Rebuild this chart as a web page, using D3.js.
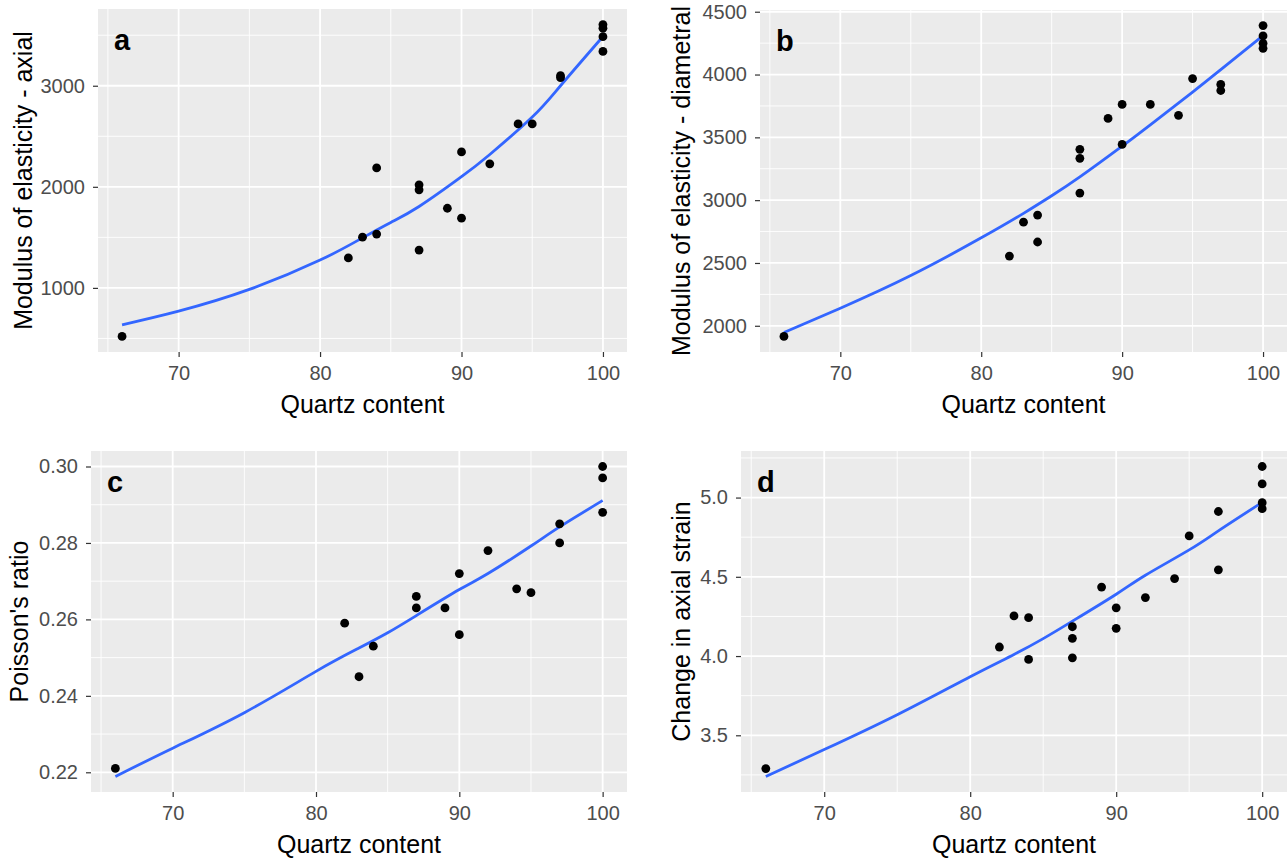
<!DOCTYPE html>
<html>
<head>
<meta charset="utf-8">
<script src="https://cdn.jsdelivr.net/npm/d3@7/dist/d3.min.js"></script>
<style>
  html, body { margin: 0; padding: 0; background: #fff; }
  svg { display: block; font-family: Arial, 'Liberation Sans', sans-serif; }
</style>
</head>
<body>
<div id="chart"></div>
<script>
/* Four ggplot-style scatter panels: rock properties vs quartz content,
 * each with its smoothed fit line. */
(function () {
  'use strict';

  // ---- data -------------------------------------------------------------
  const xLabel = 'Quartz content';
  const xTicks = [70, 80, 90, 100];
  const xMinor = [65, 75, 85, 95];

  // shared x positions of the samples (quartz %)
  const quartz = [66, 82, 83, 84, 84, 87, 87, 87, 89, 90, 90, 92, 94, 95, 97, 97, 100, 100, 100, 100];

  // a: modulus of elasticity - axial
  const modAxial = [520, 1296, 1502, 1532, 2187, 2020, 1970, 1374, 1788, 2345, 1690, 2227, 2622, 2622, 3080, 3100, 3605, 3570, 3485, 3340];
  // b: modulus of elasticity - diametral
  const modDiam = [1915, 2555, 2825, 2881, 2667, 3405, 3333, 3056, 3651, 3762, 3444, 3762, 3675, 3968, 3921, 3873, 4390, 4307, 4249, 4209];
  // c: Poisson's ratio (17 visible points)
  const quartzC = [66, 82, 83, 84, 87, 87, 89, 90, 90, 92, 94, 95, 97, 97, 100, 100, 100];
  const poisson = [0.221, 0.259, 0.245, 0.253, 0.266, 0.263, 0.263, 0.272, 0.256, 0.278, 0.268, 0.267, 0.285, 0.280, 0.300, 0.297, 0.288];
  // d: change in axial strain
  const strain = [3.29, 4.057, 4.253, 4.242, 3.979, 4.185, 4.112, 3.989, 4.435, 4.304, 4.175, 4.369, 4.489, 4.758, 4.912, 4.544, 5.196, 5.086, 4.968, 4.930];

  // fitted (smooth) curves, sampled along x
  const fitX = [66, 70, 75, 80, 83, 85, 87, 90, 92, 95, 97, 100];
  const fitAxial = [635, 770, 985, 1275, 1495, 1648, 1805, 2100, 2320, 2690, 3000, 3487];
  const fitDiam = [1947, 2140, 2400, 2700, 2895, 3035, 3185, 3430, 3600, 3860, 4039, 4310];
  const fitPoisson = [0.2189, 0.2263, 0.2356, 0.2464, 0.2525, 0.2565, 0.2610, 0.2678, 0.2720, 0.2792, 0.2842, 0.2911];
  const fitStrain = [3.24, 3.41, 3.63, 3.87, 4.01, 4.11, 4.22, 4.39, 4.51, 4.67, 4.79, 4.97];

  const yTicksA = [1000, 2000, 3000];
  const yMinorA = [500, 1500, 2500, 3500];
  const yTicksB = [2000, 2500, 3000, 3500, 4000, 4500];
  const yMinorB = [2250, 2750, 3250, 3750, 4250];
  const yTicksC = [0.22, 0.24, 0.26, 0.28, 0.30];
  const yMinorC = [0.23, 0.25, 0.27, 0.29];
  const yTicksD = [3.5, 4.0, 4.5, 5.0];
  const yMinorD = [3.25, 3.75, 4.25, 4.75, 5.25];

  // ---- layout -----------------------------------------------------------
  const W = 1287, H = 859;
  const panels = [
    { tag: 'a', yLabel: 'Modulus of elasticity - axial', xs: quartz, ys: modAxial, fit: fitAxial,
      yTicks: yTicksA, yMinor: yMinorA, fmt: d3.format('d'),
      box: { l: 98, t: 9, r: 627, b: 352 }, titleX: 32 },
    { tag: 'b', yLabel: 'Modulus of elasticity - diametral', xs: quartz, ys: modDiam, fit: fitDiam,
      yTicks: yTicksB, yMinor: yMinorB, fmt: d3.format('d'),
      box: { l: 760, t: 10, r: 1287, b: 352 }, titleX: 690 },
    { tag: 'c', yLabel: "Poisson's ratio", xs: quartzC, ys: poisson, fit: fitPoisson,
      yTicks: yTicksC, yMinor: yMinorC, fmt: d3.format('.2f'),
      box: { l: 91, t: 451, r: 627, b: 792 }, titleX: 28 },
    { tag: 'd', yLabel: 'Change in axial strain', xs: quartz, ys: strain, fit: fitStrain,
      yTicks: yTicksD, yMinor: yMinorD, fmt: d3.format('.1f'),
      box: { l: 741, t: 451, r: 1287, b: 792 }, titleX: 690 },
  ];

  const svg = d3.select('#chart').append('svg').attr('width', W).attr('height', H);

  // ggplot default 5% expansion
  function expand(ext) {
    const pad = (ext[1] - ext[0]) * 0.05;
    return [ext[0] - pad, ext[1] + pad];
  }

  function drawPanel(p) {
    const b = p.box;
    const x = d3.scaleLinear().domain(expand(d3.extent(p.xs.concat(fitX)))).range([b.l, b.r]);
    const y = d3.scaleLinear().domain(expand(d3.extent(p.ys.concat(p.fit)))).range([b.b, b.t]);
    const g = svg.append('g');

    g.append('rect').attr('x', b.l).attr('y', b.t).attr('width', b.r - b.l).attr('height', b.b - b.t)
      .attr('fill', '#EBEBEB');

    // minor then major grid
    g.selectAll('.mx').data(xMinor).enter().append('line')
      .attr('x1', d => x(d)).attr('x2', d => x(d)).attr('y1', b.t).attr('y2', b.b)
      .attr('stroke', '#fff').attr('stroke-width', 0.9);
    g.selectAll('.my').data(p.yMinor).enter().append('line')
      .attr('y1', d => y(d)).attr('y2', d => y(d)).attr('x1', b.l).attr('x2', b.r)
      .attr('stroke', '#fff').attr('stroke-width', 0.9);
    g.selectAll('.gx').data(xTicks).enter().append('line')
      .attr('x1', d => x(d)).attr('x2', d => x(d)).attr('y1', b.t).attr('y2', b.b)
      .attr('stroke', '#fff').attr('stroke-width', 1.8);
    g.selectAll('.gy').data(p.yTicks).enter().append('line')
      .attr('y1', d => y(d)).attr('y2', d => y(d)).attr('x1', b.l).attr('x2', b.r)
      .attr('stroke', '#fff').attr('stroke-width', 1.8);

    // axes (ggplot look: short grey ticks, no domain line)
    const ax = g.append('g').attr('transform', `translate(0,${b.b})`)
      .call(d3.axisBottom(x).tickValues(xTicks).tickSize(5).tickPadding(9).tickFormat(d3.format('d')));
    const ay = g.append('g').attr('transform', `translate(${b.l},0)`)
      .call(d3.axisLeft(y).tickValues(p.yTicks).tickSize(5).tickPadding(8).tickFormat(p.fmt));
    [ax, ay].forEach(a => {
      a.select('.domain').remove();
      a.selectAll('line').attr('stroke', '#333').attr('stroke-width', 1.2);
      a.selectAll('text').attr('fill', '#4D4D4D').style('font-size', '20px')
        .style('font-family', "Arial, 'Liberation Sans', sans-serif");
    });

    // fit line
    const line = d3.line().x((d, i) => x(fitX[i])).y(d => y(d)).curve(d3.curveNatural);
    g.append('path').datum(p.fit).attr('fill', 'none').attr('stroke', '#3366FF')
      .attr('stroke-width', 2.8).attr('d', line);

    // points
    g.selectAll('.pt').data(p.ys).enter().append('circle')
      .attr('cx', (d, i) => x(p.xs[i])).attr('cy', d => y(d)).attr('r', 4.4).attr('fill', '#000');

    // panel tag
    g.append('text').attr('x', b.l + 16).attr('y', b.t + 41)
      .style('font-size', '29px').style('font-weight', 'bold').attr('fill', '#000').text(p.tag);

    // axis titles
    g.append('text').attr('x', (b.l + b.r) / 2).attr('y', b.b + 61).attr('text-anchor', 'middle')
      .style('font-size', '25px').attr('fill', '#000').text(xLabel);
    const cy = (b.t + b.b) / 2;
    g.append('text').attr('x', p.titleX).attr('y', cy).attr('text-anchor', 'middle')
      .attr('transform', `rotate(-90, ${p.titleX}, ${cy})`)
      .style('font-size', '25px').attr('fill', '#000').text(p.yLabel);
  }

  panels.forEach(drawPanel);
})();
</script>
</body>
</html>
